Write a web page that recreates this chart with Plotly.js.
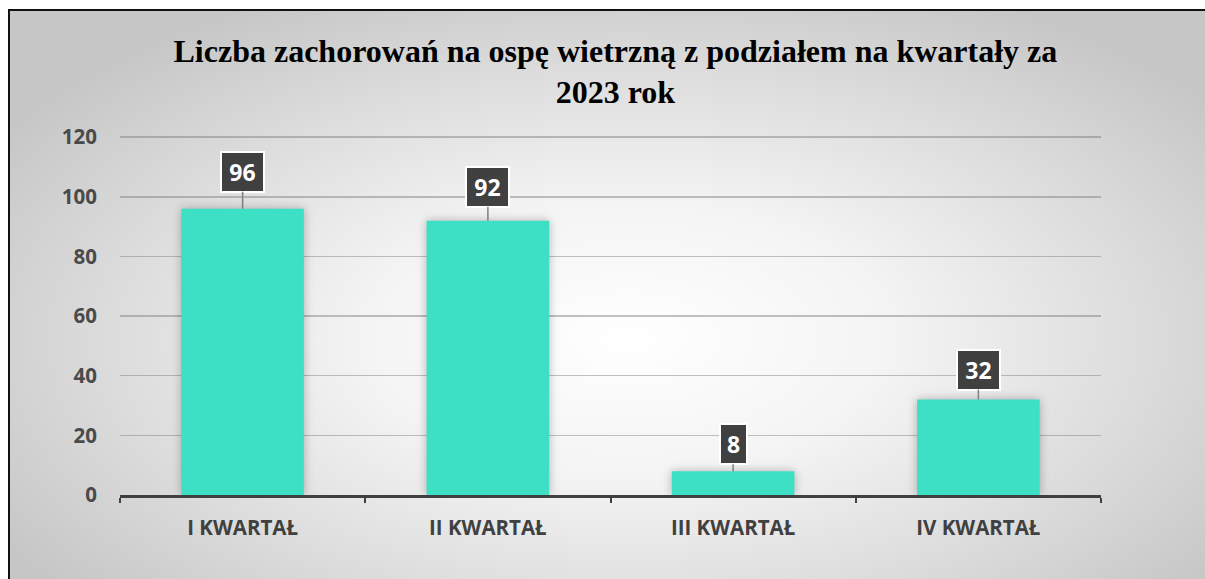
<!DOCTYPE html>
<html>
<head>
<meta charset="utf-8">
<script src="https://cdn.plot.ly/plotly-3.0.1.min.js"></script>
<style>
  html, body { margin: 0; padding: 0; width: 1205px; height: 579px; overflow: hidden; background: #ffffff; }
  #frame {
    position: absolute; left: 8px; top: 9px; width: 1240px; height: 600px;
    border: 2px solid #111111; box-sizing: border-box;
    background: radial-gradient(ellipse 60% 65% at 50% 55%, #ffffff 0%, #f4f4f4 35%, #dcdcdc 70%, #c6c6c6 100%);
  }
  #chart { position: absolute; left: 0; top: 0; width: 1205px; height: 579px; }
  #chart .trace.bars path { filter: drop-shadow(0 0 5px rgba(0,0,0,0.28)); }
</style>
</head>
<body>
<div id="frame"></div>
<div id="chart"></div>
<script>
const categories = ["I KWARTAŁ", "II KWARTAŁ", "III KWARTAŁ", "IV KWARTAŁ"];
const cases = [96, 92, 8, 32];
const yTickValues = [0, 20, 40, 60, 80, 100, 120];
const titleText = "Liczba zachorowań na ospę wietrzną z podziałem na kwartały za<br>2023 rok";

const labelLift = [37, 34, 27, 30];

const annotations = categories.map((c, i) => {
  const txt = String(cases[i]);
  return {
    x: c, y: cases[i], xref: 'x', yref: 'y',
    text: txt,
    showarrow: true, arrowhead: 0, arrowwidth: 1.5, arrowcolor: '#7f7f7f',
    ax: 0, ay: -labelLift[i], standoff: 0,
    font: { family: 'Open Sans', size: 23, color: '#ffffff', weight: 'bold' },
    bgcolor: '#404040', bordercolor: '#ffffff', borderwidth: 2, borderpad: 3,
    width: 3 + 16 * txt.length
  };
});

const data = [{
  type: 'bar',
  x: categories,
  y: cases,
  marker: { color: '#3ee0c5' },
  hoverinfo: 'none'
}];

const layout = {
  width: 1205, height: 579,
  paper_bgcolor: 'rgba(0,0,0,0)',
  plot_bgcolor: 'rgba(0,0,0,0)',
  margin: { l: 120, r: 104, t: 136, b: 84, pad: 0 },
  bargap: 0.5,
  showlegend: false,
  title: {
    text: titleText,
    font: { family: 'Liberation Serif', size: 32, color: '#000000', weight: 'bold' },
    x: 0.505, xanchor: 'center', xref: 'paper',
    y: 0.8935, yanchor: 'top', yref: 'container'
  },
  xaxis: {
    type: 'category',
    showgrid: false,
    showline: true, linecolor: '#404040', linewidth: 3,
    ticks: 'outside', tickson: 'boundaries', ticklen: 5, tickwidth: 2, tickcolor: '#404040',
    tickfont: { family: 'Open Sans', size: 20.5, color: '#404040', weight: 'bold' },
    ticklabelstandoff: 12,
    zeroline: false, fixedrange: true
  },
  yaxis: {
    range: [0, 120.4],
    tickvals: yTickValues,
    ticktext: yTickValues.map(String),
    showgrid: true, gridcolor: 'rgba(120,120,120,0.45)', gridwidth: 1.5,
    showline: false, ticks: '', zeroline: false,
    tickfont: { family: 'Open Sans', size: 20.5, color: '#4a4a4a', weight: 'bold' },
    ticklabelstandoff: 22,
    fixedrange: true
  },
  annotations: annotations
};

Plotly.newPlot('chart', data, layout, { staticPlot: true, displayModeBar: false });
</script>
</body>
</html>
